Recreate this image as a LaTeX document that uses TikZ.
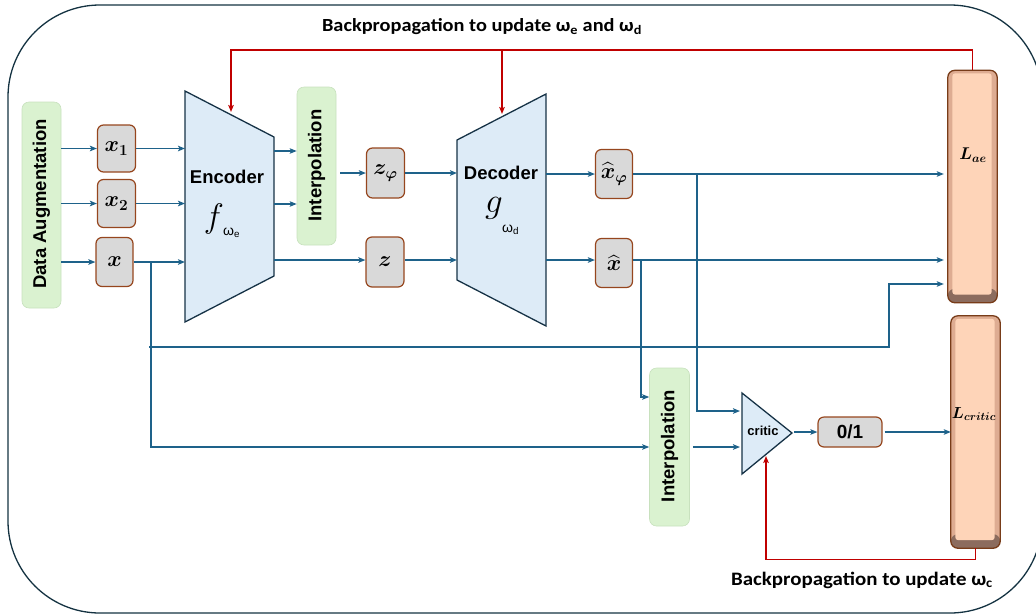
\documentclass[tikz,border=0pt]{standalone}
\usepackage{fix-cm}
\usepackage{amsmath,bm}
\usepackage[no-math]{fontspec}
\setmainfont{Liberation Sans}
\newfontfamily\calib{Carlito}[FakeStretch=1.1]
\usetikzlibrary{arrows.meta,calc}
\definecolor{arrblue}{RGB}{30,98,138}
\definecolor{bpred}{RGB}{192,0,0}
\definecolor{gfill}{RGB}{218,242,208}
\definecolor{gdraw}{RGB}{200,225,190}
\definecolor{vfill}{RGB}{217,217,217}
\definecolor{vdraw}{RGB}{150,70,30}
\definecolor{tfill}{RGB}{221,235,247}
\definecolor{tdraw}{RGB}{22,50,70}
\definecolor{framec}{RGB}{20,50,65}
\definecolor{lside}{RGB}{222,172,146}
\definecolor{lband}{RGB}{140,108,94}
\definecolor{lpeach}{RGB}{254,212,184}
\definecolor{ldraw}{RGB}{120,60,25}
\tikzset{
  greenbox/.style={rounded corners=7pt, fill=gfill, draw=gdraw, line width=0.6pt, inner sep=0pt},
  boldlbl/.style={font=\fontsize{18.5}{20}\selectfont\bfseries, inner sep=0pt},
  varbox/.style={rounded corners=6pt, fill=vfill, draw=vdraw, line width=1.2pt, inner sep=0pt,
    minimum width=38pt, minimum height=49pt, font=\fontsize{22}{24}\selectfont},
  trap/.style={fill=tfill, draw=tdraw, line width=1.3pt, line join=miter},
  conn/.style={draw=arrblue, line width=1.3pt, -{Stealth[length=7pt,width=5.5pt,inset=1.5pt]}},
  bparr/.style={draw=bpred, line width=1.4pt, -{Stealth[length=7pt,width=5.5pt,inset=1.5pt]}},
  lossnode/.style={fill=lside, draw=none, rounded corners=7pt, minimum width=49pt, inner sep=0pt},
  bplbl/.style={font=\calib\fontsize{18.5}{20}\selectfont\bfseries, inner sep=0pt},
  mathlbl/.style={inner sep=0pt},
  omlbl/.style={inner sep=0pt, font=\fontsize{14}{14}\selectfont}
}
\begin{document}
\begin{tikzpicture}[x=1pt,y=-1pt]
\useasboundingbox (0,0) rectangle (1036,614);
% frame
\draw[draw=framec, line width=1.3pt, rounded corners=92pt] (8,5) rectangle (1042,613);

% green boxes
\node[greenbox, minimum width=39pt, minimum height=206pt] (DA) at (41.5,205) {};
\node[boldlbl, rotate=90] (DAt) at (41.5,204) {Data Augmentation};
\node[greenbox, minimum width=39pt, minimum height=158pt] (IT) at (316.5,166) {};
\node[boldlbl, rotate=90] (ITt) at (316.5,165.5) {Interpolation};
\node[greenbox, minimum width=40pt, minimum height=158pt] (IB) at (669.5,447) {};
\node[boldlbl, rotate=90] (IBt) at (669.5,446) {Interpolation};

% variable boxes
\node[varbox, minimum height=47pt] (x1) at (116.5,148.5) {$\bm{x_1}$};
\node[varbox, minimum height=48pt] (x2) at (116.5,203.5) {$\bm{x_2}$};
\node[varbox, minimum width=37pt] (x) at (114.5,262) {$\bm{x}$};
\node[varbox, minimum height=50pt] (zp) at (385.5,173) {$\bm{z_{\varphi}}$};
\node[varbox, minimum height=50pt] (z) at (385,262) {$\bm{z}$};
\node[varbox, minimum width=37pt] (xhp) at (614,174) {$\widehat{\bm{x}}_{\bm{\varphi}}$};
\node[varbox, minimum width=37pt] (xh) at (614,263) {$\widehat{\bm{x}}$};
\node[varbox, minimum width=64pt, minimum height=30pt, font=\fontsize{19}{20}\selectfont\bfseries] (zo) at (850,432) {0/1};

% encoder
\coordinate (eTL) at (185,91);
\coordinate (eBL) at (185,322);
\coordinate (eTR) at (274,137);
\coordinate (eBR) at (274,276);
\filldraw[trap] (eTL) -- (eTR) -- (eBR) -- (eBL) -- cycle;
\node[boldlbl] (encT) at (227,177) {Encoder};
\node[mathlbl, font=\fontsize{34}{34}\selectfont] (encf) at (214,219) {$f$};
\node[omlbl, anchor=west] (encw) at (223,233) {ω\textsubscript{e}};

% decoder
\coordinate (dTL) at (457,140);
\coordinate (dBL) at (457,280);
\coordinate (dTR) at (546,94);
\coordinate (dBR) at (546,326);
\filldraw[trap] (dTL) -- (dTR) -- (dBR) -- (dBL) -- cycle;
\node[boldlbl] (decT) at (501,173) {Decoder};
\node[mathlbl, font=\fontsize{35}{35}\selectfont] (decg) at (494,208) {$g$};
\node[omlbl, anchor=west] (decw) at (502,230) {ω\textsubscript{d}};

% critic
\coordinate (cT) at (742,393);
\coordinate (cB) at (742,474);
\coordinate (cTip) at (792,433);
\filldraw[trap] (cT) -- (cTip) -- (cB) -- cycle;
\node[font=\fontsize{13}{14}\selectfont\bfseries, inner sep=0pt] (critT) at (763,431) {critic};

% loss boxes
\node[lossnode, minimum height=232pt] (Lae) at (972.5,186.5) {};
\node[lossnode, minimum height=232pt] (Lcr) at (975.5,432) {};
\foreach \L in {Lae,Lcr}{
  \fill[lband, rounded corners=7pt] ([yshift=14pt]\L.south west) rectangle (\L.south east);
  \fill[lpeach, rounded corners=3pt] ([xshift=4.5pt,yshift=-3pt]\L.north west) rectangle ([xshift=-5.5pt,yshift=8pt]\L.south east);
  \draw[ldraw, line width=1.3pt, rounded corners=7pt] (\L.north west) rectangle (\L.south east);
}
\node[font=\fontsize{17}{18}\selectfont, inner sep=0pt] (LaeT) at (973,155) {$\bm{L_{ae}}$};
\node[font=\fontsize{16}{18}\selectfont, inner sep=0pt] (LcrT) at (974,414) {$\bm{L_{critic}}$};

% labels
\node[bplbl] (bpTop) at (482,27) {Backpropagation to update ω\textsubscript{e} and ω\textsubscript{d}};
\node[bplbl, font=\calib\fontsize{19}{20}\selectfont\bfseries] (bpBot) at (862,580) {Backpropagation to update ω\textsubscript{c}};

% connectors: data augmentation -> inputs
\draw[conn] (DA.east |- x1.west) -- (x1.west);
\draw[conn] (DA.east |- x2.west) -- (x2.west);
\draw[conn] (DA.east |- x.west) -- (x.west);
% inputs -> encoder
\draw[conn] (x1.east) -- (x1.east -| eTL);
\draw[conn] (x2.east) -- (x2.east -| eTL);
\draw[conn] (x.east) -- (x.east -| eTL);
% encoder -> interpolation
\coordinate (eo1) at (274,151);
\coordinate (eo2) at (274,204);
\coordinate (eo3) at (274,260);
\draw[conn] (eo1) -- (eo1 -| IT.west);
\draw[conn] (eo2) -- (eo2 -| IT.west);
\draw[conn, shorten <=4pt] (IT.east |- zp.west) -- (zp.west);
\draw[conn] (eo3) -- (eo3 -| z.west);
% latent -> decoder
\draw[conn] (zp.east) -- (zp.east -| dTL);
\draw[conn] (z.east |- eo3) -- (eo3 -| dTL);
% decoder -> outputs
\draw[conn] (dTR |- xhp.west) -- (xhp.west);
\draw[conn] (dTR |- eo3) -- (eo3 -| xh.west);
% outputs -> L_ae
\draw[conn, shorten >=4pt] (xhp.east) -- (xhp.east -| Lae.west);
\draw[conn, shorten >=4pt] (xh.east |- eo3) -- (eo3 -| Lae.west);
% x branch
\coordinate (xbr) at (151,262);
\draw[conn] (xbr) |- (IB.west);
\coordinate (lA) at (149,347);
\coordinate (lB) at (889,284);
\draw[conn, shorten >=4pt] (lA) -| (lB) -- (lB -| Lae.west);
% x-hat branch
\coordinate (hb) at (641,260);
\coordinate (IBin1) at ($(IB.west)+(0,-50)$);
\draw[conn] (hb) |- (IBin1);
% x-hat-phi branch
\coordinate (pb) at (697,175);
\coordinate (cIn1) at (740,411);
\draw[conn] (pb) |- (cIn1);
\draw[conn, shorten <=3pt] (IB.east) -- (IB.east -| cIn1);
% critic -> 0/1 -> L_critic
\draw[conn, shorten <=2pt] (cTip |- zo.west) -- (zo.west);
\draw[conn, shorten <=2pt] (zo.east) -- (zo.east -| Lcr.west);

% backpropagation (red)
\coordinate (bpE) at (231,112);
\coordinate (bpD) at (502,114);
\coordinate (topL) at (231,50);
\draw[bparr] (Lae.north) |- (topL) -- (bpE);
\draw[bparr] (bpD |- topL) -- (bpD);
\coordinate (bpC) at (766,456);
\draw[bparr] (Lcr.south) -- ++(0,11) -| (bpC);
\end{tikzpicture}
\end{document}
